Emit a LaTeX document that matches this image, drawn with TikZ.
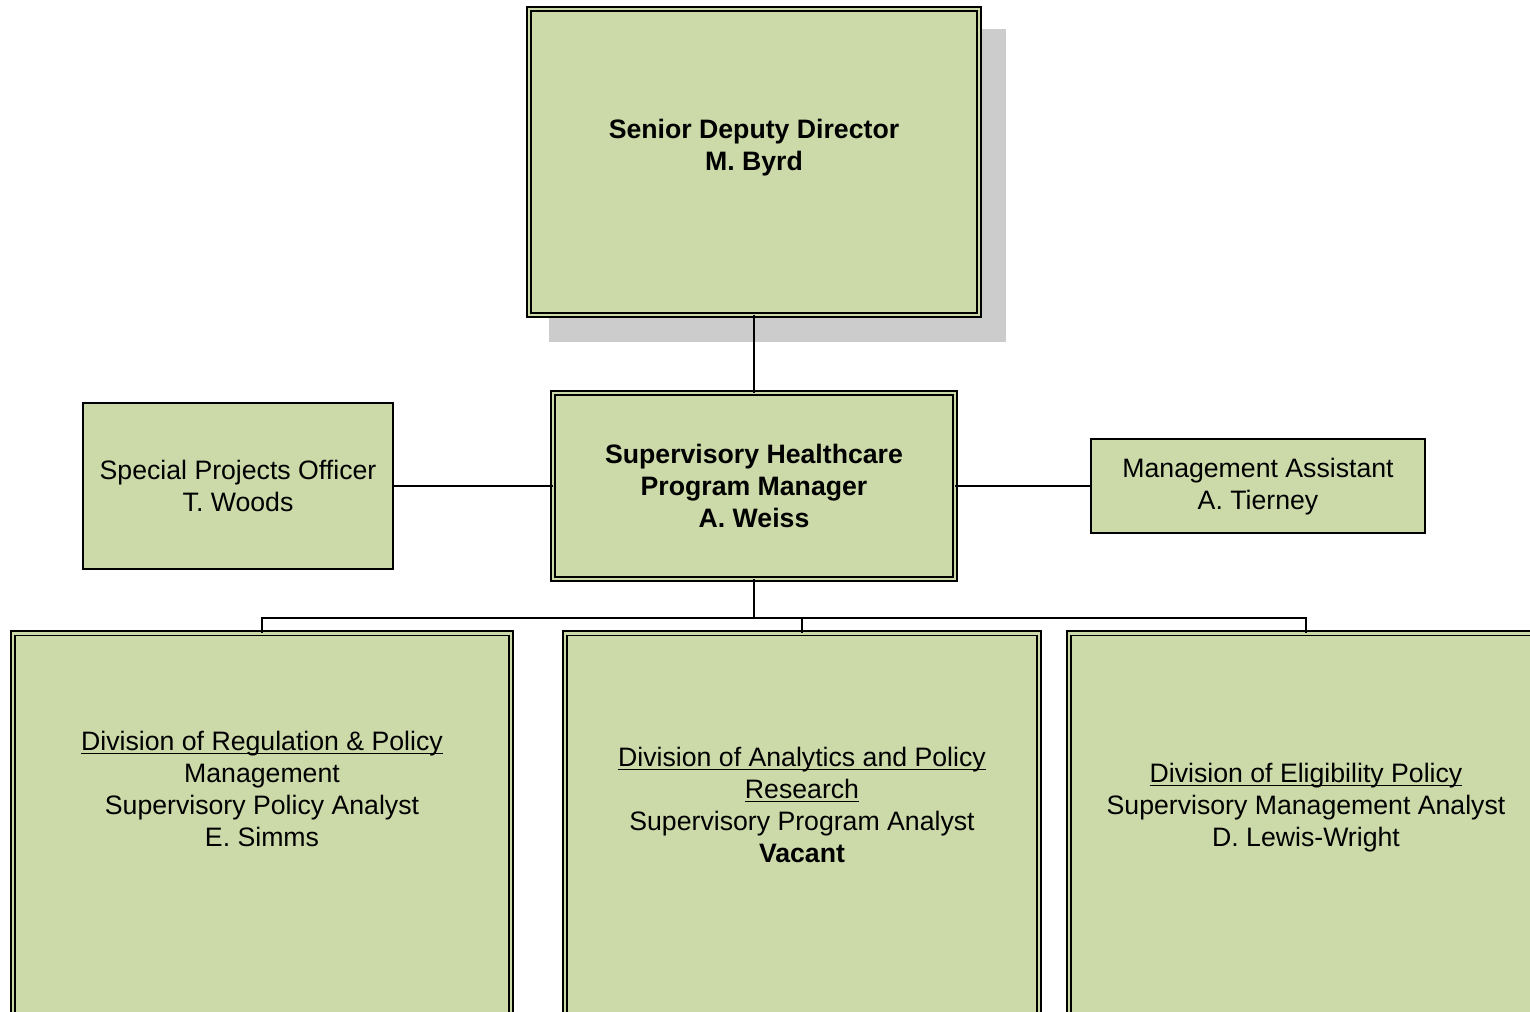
\documentclass[tikz,border=0pt]{standalone}
\usepackage{fontspec}
\setmainfont{Liberation Sans}
\definecolor{boxgreen}{RGB}{204,218,169}
\definecolor{shadowgray}{RGB}{204,204,204}
\newcommand\divul[1]{\setbox0\hbox{#1}\rlap{\rule[-2.6pt]{\wd0}{1.1pt}}\box0}

\begin{document}
\begin{tikzpicture}[x=0.75pt, y=-0.75pt,
  every node/.style={font=\fontsize{20}{24}\selectfont, align=center, inner sep=0pt, outer sep=0pt},
  dblbox/.style={draw, fill=boxgreen, line width=1.4pt, double=boxgreen, double distance=2pt},
  plainbox/.style={draw, fill=boxgreen, line width=1.5pt},
  link/.style={draw, line width=1.1pt}]
\useasboundingbox (0,0) rectangle (1530,1011);
\fill [shadowgray] (549,29) rectangle (1006,342);
\node [dblbox, minimum width=337.5pt, minimum height=229.5pt] (sdd) at (754,162) {};
\node [font=\fontsize{20}{24}\selectfont\bfseries] (sddname) at (754,148) {Senior Deputy Director\\M. Byrd};
\node [dblbox, minimum width=301.5pt, minimum height=139.5pt, font=\fontsize{20}{24}\selectfont\bfseries] (mgr) at (754,486) {Supervisory Healthcare\\Program Manager\\A. Weiss};
\node [plainbox, minimum width=232.5pt, minimum height=124.5pt] (spo) at (238,486) {Special Projects Officer\\T. Woods};
\node [plainbox, minimum width=250.5pt, minimum height=70.5pt] (ma) at (1258,486) {\rule{0pt}{15pt}Management Assistant\\A. Tierney};
\foreach \name/\x/\w in {drp/262/373.5, dapr/802/355.5, dep/1306/355.5} {
  \node [dblbox, minimum width=\w pt, minimum height=350pt] (\name) at (\x,866.5) {};
}
\node (drpname) at (262,789) {\divul{Division of Regulation \& Policy}\\Management\\Supervisory Policy Analyst\\E. Simms};
\node (daprname) at (802,805) {\divul{Division of Analytics and Policy}\\\divul{Research}\\Supervisory Program Analyst\\\textbf{Vacant}};
\node (depname) at (1306,808) {\divul{Division of Eligibility Policy}\\Supervisory Management Analyst\\D. Lewis-Wright};
\coordinate (bus) at (754,618);
\draw [link] (sdd.south) -- (mgr.north);
\draw [link] (spo.east) -- (mgr.west);
\draw [link] (mgr.east) -- (ma.west);
\draw [link] (mgr.south) -- (bus);
\foreach \name in {drp, dapr, dep} {
  \draw [link] (bus) -| (\name.north);
}
\end{tikzpicture}
\end{document}
